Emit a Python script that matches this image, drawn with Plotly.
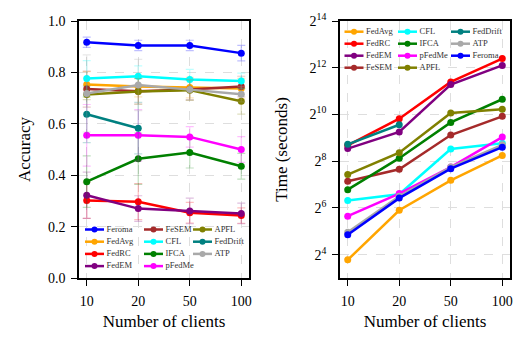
import math
import plotly.graph_objects as go

# number of clients (categorical x)
clients = ["10", "20", "50", "100"]

# accuracy (mean) per method
acc_feroma = [0.917, 0.905, 0.905, 0.875]
acc_fedavg = [0.753, 0.745, 0.741, 0.737]
acc_fedrc = [0.302, 0.297, 0.254, 0.243]
acc_fedem = [0.322, 0.270, 0.261, 0.251]
acc_fesem = [0.735, 0.727, 0.733, 0.745]
acc_cfl = [0.776, 0.785, 0.772, 0.767]
acc_ifca = [0.375, 0.464, 0.488, 0.435]
acc_pfedme = [0.555, 0.555, 0.549, 0.500]
acc_apfl = [0.714, 0.726, 0.731, 0.688]
acc_feddrift = [0.637, 0.583, None, None]
acc_atp = [0.718, 0.751, 0.733, 0.715]

# accuracy std (error bars)
err_feroma = [0.02, 0.02, 0.02, 0.03]
err_fedavg = [0.05, 0.04, 0.04, 0.04]
err_fedrc = [0.07, 0.07, 0.04, 0.03]
err_fedem = [0.09, 0.05, 0.05, 0.04]
err_fesem = [0.07, 0.05, 0.04, 0.04]
err_cfl = [0.07, 0.04, 0.04, 0.03]
err_ifca = [0.10, 0.10, 0.06, 0.05]
err_pfedme = [0.12, 0.10, 0.04, 0.05]
err_apfl = [0.02, 0.05, 0.04, 0.05]
err_feddrift = [0.11, 0.10, None, None]
err_atp = [0.15, 0.10, 0.04, 0.03]

# running time in seconds
time_fedavg = [13.7, 59.7, 145, 304]
time_fedrc = [410, 904, 2685, 5370]
time_fedem = [372, 609, 2487, 4390]
time_fesem = [141, 201, 556, 969]
time_cfl = [80, 96, 367, 437]
time_ifca = [110, 280, 809, 1607]
time_pfedme = [50, 98, 215, 523]
time_apfl = [172, 329, 1067, 1193]
time_feddrift = [422, 755, None, None]
time_atp = [31, 90.5, 215, 416]
time_feroma = [28.8, 85.6, 205, 388]

colors = {
    "Feroma": "#0000ff", "FedAvg": "#ffa500", "FedRC": "#ff0000",
    "FedEM": "#800080", "FeSEM": "#a52a2a", "CFL": "#00ffff",
    "IFCA": "#008000", "pFedMe": "#ff00ff", "APFL": "#808000",
    "FedDrift": "#008080", "ATP": "#a9a9a9",
}

acc_series = [
    ("Feroma", acc_feroma, err_feroma), ("FedAvg", acc_fedavg, err_fedavg),
    ("FedRC", acc_fedrc, err_fedrc), ("FedEM", acc_fedem, err_fedem),
    ("FeSEM", acc_fesem, err_fesem), ("CFL", acc_cfl, err_cfl),
    ("IFCA", acc_ifca, err_ifca), ("pFedMe", acc_pfedme, err_pfedme),
    ("APFL", acc_apfl, err_apfl), ("FedDrift", acc_feddrift, err_feddrift),
    ("ATP", acc_atp, err_atp),
]
time_series = [
    ("FedAvg", time_fedavg), ("FedRC", time_fedrc), ("FedEM", time_fedem),
    ("FeSEM", time_fesem), ("CFL", time_cfl), ("IFCA", time_ifca),
    ("pFedMe", time_pfedme), ("APFL", time_apfl), ("FedDrift", time_feddrift),
    ("ATP", time_atp), ("Feroma", time_feroma),
]


def rgba(hex_color, a):
    h = hex_color.lstrip("#")
    return "rgba(%d,%d,%d,%.2f)" % (int(h[0:2], 16), int(h[2:4], 16), int(h[4:6], 16), a)


fig = go.Figure()

for name, y, e in acc_series:
    fig.add_trace(go.Scatter(
        x=clients, y=y, mode="lines+markers", name=name,
        line=dict(color=colors[name], width=2.5),
        marker=dict(size=7, color=colors[name]),
        error_y=dict(type="data", array=e, color=rgba(colors[name], 0.25),
                     thickness=1.2, width=4),
        xaxis="x", yaxis="y",
    ))

for name, y in time_series:
    fig.add_trace(go.Scatter(
        x=clients, y=y, mode="lines+markers", name=name,
        line=dict(color=colors[name], width=2.5),
        marker=dict(size=7, color=colors[name]),
        xaxis="x2", yaxis="y2",
    ))


# matplotlib-style legends (column-major, 4 rows), drawn on overlay axes
# whose units are pixels of the plot area
def add_legend(names, xa, ya, col_x, row_y0, row_dy):
    L = 19
    tx, ty, tt = [], [], []
    for i, name in enumerate(names):
        x0 = col_x[i // 4]
        y0 = row_y0 + row_dy * (i % 4)
        fig.add_trace(go.Scatter(
            x=[x0, x0 + L / 2, x0 + L], y=[y0, y0, y0], mode="lines+markers",
            line=dict(color=colors[name], width=2.5),
            marker=dict(size=6, color=colors[name], opacity=[0, 1, 0]),
            hoverinfo="skip", xaxis=xa, yaxis=ya,
        ))
        tx.append(x0 + L + 2.5)
        ty.append(y0)
        tt.append(name)
    fig.add_trace(go.Scatter(
        x=tx, y=ty, text=tt, mode="text", textposition="middle right",
        textfont=dict(size=8.5, color="#333"), hoverinfo="skip",
        xaxis=xa, yaxis=ya,
    ))


add_legend([s[0] for s in acc_series], "x3", "y3", [6, 65, 114], 208.5, 12.2)
add_legend([s[0] for s in time_series], "x4", "y4", [4.5, 58, 111], 10.7, 12.0)

axis_style = dict(
    showline=True, linecolor="black", linewidth=1.6, mirror=True,
    ticks="outside", ticklen=6, tickwidth=1.3, tickcolor="black",
    showgrid=True, gridcolor="#dedede", griddash="dash", gridwidth=1,
    zeroline=False, automargin=False,
)

left_dom = [0, 170 / 431]
right_dom = [261 / 431, 1]
PW, PH = 170, 257

exps = [4, 6, 8, 10, 12, 14]

# page body has an 8px margin, so the figure is sized to sit inside it
fig.update_layout(
    width=522, height=342,
    margin=dict(l=71, r=20, t=13, b=72),
    plot_bgcolor="white", paper_bgcolor="white",
    font=dict(family="Liberation Serif", size=14, color="black"),
    showlegend=False,
    xaxis=dict(axis_style, domain=left_dom, anchor="y", type="category",
               range=[-0.15, 3.15], ticklabelstandoff=3,
               title=dict(text="Number of clients", standoff=8)),
    yaxis=dict(axis_style, domain=[0, 1], anchor="x", range=[0, 1],
               tickvals=[0, 0.2, 0.4, 0.6, 0.8, 1.0], tickformat=".1f",
               ticklabelstandoff=3,
               title=dict(text="Accuracy", standoff=13)),
    xaxis2=dict(axis_style, domain=right_dom, anchor="y2", type="category",
                range=[-0.15, 3.15], ticklabelstandoff=3,
                title=dict(text="Number of clients", standoff=8)),
    yaxis2=dict(axis_style, domain=[0, 1], anchor="x2", type="log",
                range=[3 * math.log10(2), 14 * math.log10(2)],
                tickvals=[2 ** k for k in exps],
                ticktext=["2<sup>%d</sup>" % k for k in exps],
                ticklabelstandoff=3,
                title=dict(text="Time (seconds)", standoff=18)),
    xaxis3=dict(overlaying="x", anchor="y3", range=[0, PW], visible=False),
    yaxis3=dict(overlaying="y", anchor="x3", range=[PH, 0], visible=False),
    xaxis4=dict(overlaying="x2", anchor="y4", range=[0, PW], visible=False),
    yaxis4=dict(overlaying="y2", anchor="x4", range=[PH, 0], visible=False),
)

fig.write_html("out.html")
